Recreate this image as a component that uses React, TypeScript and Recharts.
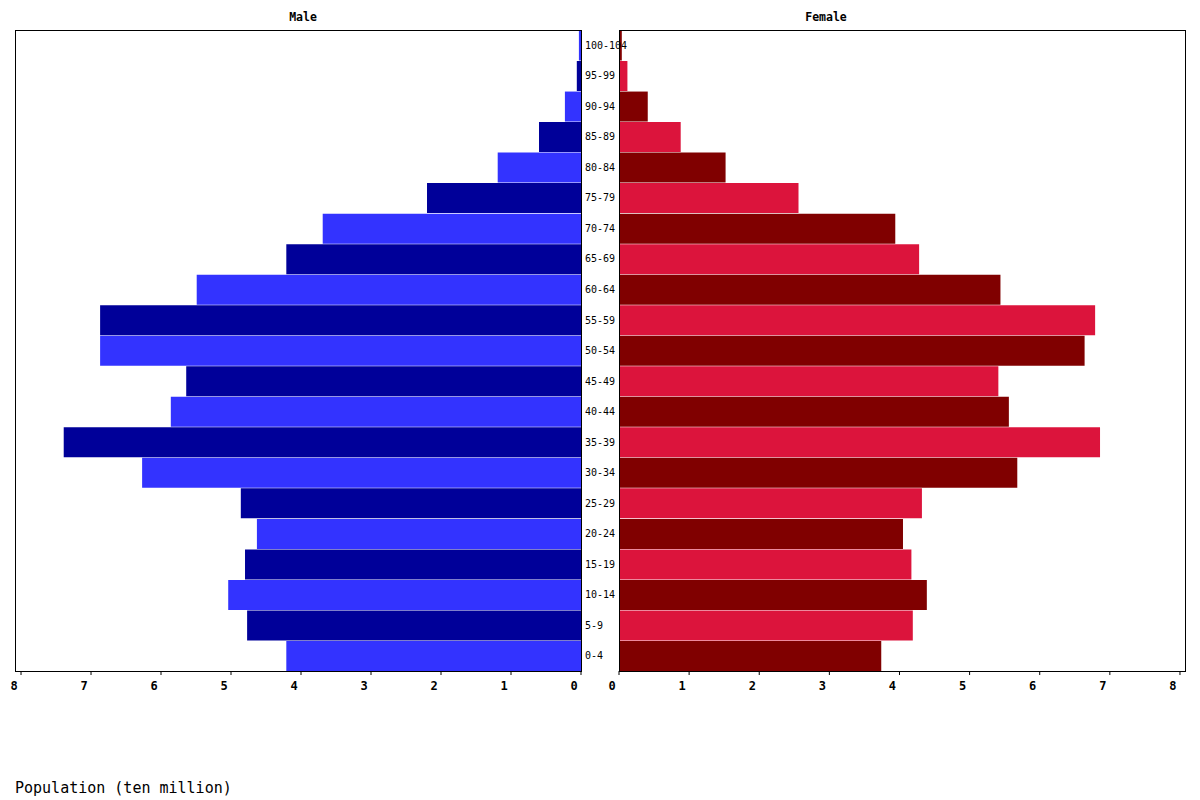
import { Bar, BarChart, Cell, XAxis, YAxis } from "recharts";

const ageGroups = [
  "0-4", "5-9", "10-14", "15-19", "20-24", "25-29", "30-34", "35-39", "40-44", "45-49",
  "50-54", "55-59", "60-64", "65-69", "70-74", "75-79", "80-84", "85-89", "90-94", "95-99", "100-104",
];

// population in ten millions
const maleValues = [
  4.21, 4.77, 5.04, 4.8, 4.63, 4.86, 6.27, 7.39, 5.86, 5.64,
  6.87, 6.87, 5.49, 4.21, 3.69, 2.2, 1.19, 0.6, 0.23, 0.06, 0.03,
];
const femaleValues = [
  3.74, 4.19, 4.39, 4.17, 4.05, 4.32, 5.68, 6.86, 5.56, 5.41,
  6.64, 6.79, 5.44, 4.28, 3.94, 2.56, 1.52, 0.88, 0.41, 0.12, 0.04,
];

const xTicks = [0, 1, 2, 3, 4, 5, 6, 7, 8];
const xMax = 8.086;

const maleColors = ["#3333ff", "#000099"];
const femaleColors = ["#800000", "#dc143c"];

const mono = "'DejaVu Sans Mono', monospace";

const rows = ageGroups.map((age, i) => ({
  age,
  male: maleValues[i],
  female: femaleValues[i],
}));

const tickStyle = {
  fill: "#000",
  fontSize: 12,
  fontWeight: "bold",
  fontFamily: mono,
  dx: -7,
};

const titleStyle = {
  position: "absolute" as const,
  top: 10,
  fontFamily: mono,
  fontWeight: "bold" as const,
  fontSize: 11.5,
  transform: "translateX(-50%)",
};

// plot frame drawn over each panel
const frameStyle = {
  position: "absolute" as const,
  top: 30,
  width: 567,
  height: 642,
  border: "1px solid #000",
  boxSizing: "border-box" as const,
  pointerEvents: "none" as const,
};

export default function App() {
  return (
    <div style={{ position: "absolute", left: 0, top: 0, width: 1200, height: 800, background: "#fff" }}>
      <div style={{ ...titleStyle, left: 303 }}>Male</div>
      <div style={{ ...titleStyle, left: 826 }}>Female</div>

      <div style={{ position: "absolute", left: 600, top: 0 }}>
        <BarChart
          width={600}
          height={800}
          data={rows}
          layout="vertical"
          margin={{ top: 30, right: 14, left: 19, bottom: 99 }}
          barCategoryGap={0.5}
        >
          <XAxis
            type="number"
            domain={[0, xMax]}
            ticks={xTicks}
            allowDataOverflow
            height={30}
            axisLine={false}
            tickLine={{ stroke: "#000" }}
            tickSize={4}
            tickMargin={6}
            tick={tickStyle}
          />
          <YAxis dataKey="age" type="category" reversed width={0} tick={false} tickLine={false} axisLine={false} />
          <Bar dataKey="female" isAnimationActive={false}>
            {rows.map((r, i) => (
              <Cell key={r.age} fill={femaleColors[i % 2]} />
            ))}
          </Bar>
        </BarChart>
      </div>

      <div style={{ position: "absolute", left: 0, top: 0 }}>
        <BarChart
          width={640}
          height={800}
          data={rows}
          layout="vertical"
          margin={{ top: 30, right: 19, left: 15, bottom: 99 }}
          barCategoryGap={0.5}
        >
          <XAxis
            type="number"
            domain={[0, xMax]}
            ticks={xTicks}
            reversed
            allowDataOverflow
            height={30}
            axisLine={false}
            tickLine={{ stroke: "#000" }}
            tickSize={4}
            tickMargin={6}
            tick={tickStyle}
          />
          <YAxis
            dataKey="age"
            type="category"
            orientation="right"
            reversed
            width={40}
            axisLine={false}
            tickLine={false}
            tickSize={0}
            tickMargin={4}
            interval={0}
            tick={{ fill: "#000", fontSize: 10, fontFamily: mono }}
          />
          <Bar dataKey="male" isAnimationActive={false}>
            {rows.map((r, i) => (
              <Cell key={r.age} fill={maleColors[i % 2]} />
            ))}
          </Bar>
        </BarChart>
      </div>

      <div style={{ ...frameStyle, left: 15 }} />
      <div style={{ ...frameStyle, left: 619 }} />

      <div style={{ position: "absolute", left: 15, top: 779, fontFamily: mono, fontSize: 15 }}>
        Population (ten million)
      </div>
    </div>
  );
}
